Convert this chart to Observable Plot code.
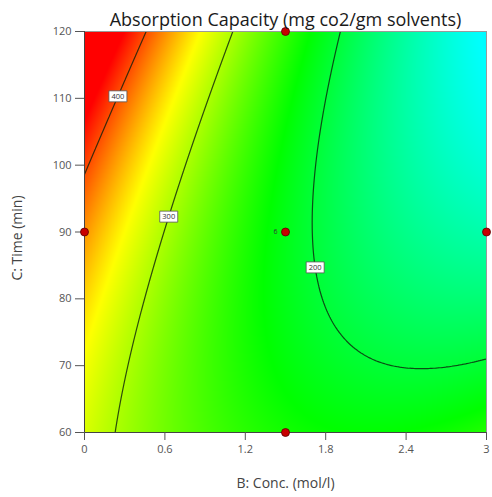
<!DOCTYPE html>
<html>
<head>
<meta charset="utf-8">
<script src="https://cdn.jsdelivr.net/npm/d3@7"></script>
<script src="https://cdn.jsdelivr.net/npm/@observablehq/plot@0.6"></script>
<style>
  html, body { margin: 0; padding: 0; background: #fff; }
</style>
</head>
<body>
<div id="chart"></div>
<script>
// Design points (B: concentration, C: time) and replicate counts
const designConc = [0, 3, 1.5, 1.5, 1.5];
const designTime = [90, 90, 120, 60, 90];
const designRuns = [1, 1, 1, 1, 6];

// Fitted quadratic model in coded units: b = (B - 1.5) / 1.5, c = (C - 90) / 30
const modelTerms = ["Intercept", "B", "C", "BC", "B²", "C²"];
const modelCoef = [214.3, -113.5, 7.4, -73.9, 46.7, 26.0];

// Contour levels and the time at which each level is labelled
const contourLevels = [200, 300, 400];
const contourLabelTime = [84.7, 92.3, 110.3];

// Colour ramp stops (response value -> colour)
const colorStops = [-5, 110, 225, 335, 428];
const colorRamp = ["#0000ff", "#00ffff", "#00ff00", "#ffff00", "#ff0000"];

// Axis ticks
const concTicks = [0, 0.6, 1.2, 1.8, 2.4, 3];
const timeTicks = [60, 70, 80, 90, 100, 110, 120];

const titleText = "Absorption Capacity (mg co2/gm solvents)";
const xLabel = "B: Conc. (mol/l)";
const yLabel = "C: Time (min)";

const coef = Object.fromEntries(modelTerms.map((t, i) => [t, modelCoef[i]]));
function response(B, C) {
  const b = (B - 1.5) / 1.5, c = (C - 90) / 30;
  return coef["Intercept"] + coef["B"] * b + coef["C"] * c + coef["BC"] * b * c
       + coef["B²"] * b * b + coef["C²"] * c * c;
}

// Concentration at which the response reaches a level for a fixed time (bisection)
function concAtLevel(level, C) {
  let lo = 0, hi = 3;
  const sLo = Math.sign(response(lo, C) - level);
  for (let i = 0; i < 60; i++) {
    const mid = (lo + hi) / 2;
    if (Math.sign(response(mid, C) - level) === sLo) lo = mid; else hi = mid;
  }
  return (lo + hi) / 2;
}

const design = designConc.map((B, i) => ({B, C: designTime[i], runs: designRuns[i]}));
const contourLabels = contourLevels.map((level, i) => ({
  level, C: contourLabelTime[i], B: concAtLevel(level, contourLabelTime[i])
}));

// Small boxed contour-label background
const labelBox = {draw(ctx) { ctx.rect(-9, -5.5, 18, 11); }};

const chart = Plot.plot({
  width: 492,
  height: 497,
  marginTop: 31,
  marginLeft: 84,
  marginRight: 6,
  marginBottom: 65,
  x: {domain: [0, 3]},
  y: {domain: [60, 120]},
  color: {type: "linear", domain: colorStops, range: colorRamp, interpolate: "rgb", clamp: true},
  style: {fontFamily: "'Open Sans', sans-serif", background: "#fff", overflow: "visible"},
  marks: [
    Plot.raster({x1: 0, x2: 3, y1: 60, y2: 120, fill: response, pixelSize: 1}),
    Plot.contour({
      x1: -0.3, x2: 3.3, y1: 55, y2: 125, value: response, thresholds: contourLevels,
      fill: "none", stroke: "#0d200d", strokeOpacity: 0.8, strokeWidth: 1.2, clip: "frame"
    }),
    Plot.frame({stroke: "#9a9a9a"}),
    Plot.ruleX([0], {stroke: "#444"}),
    Plot.ruleY([60], {stroke: "#444"}),
    Plot.axisX({ticks: concTicks, tickFormat: d => String(d), tickSize: 8, tickPadding: 5, fontSize: 11, color: "#555", label: null}),
    Plot.axisY({ticks: timeTicks, tickFormat: d => String(d), tickSize: 9, tickPadding: 4, fontSize: 11, color: "#555", label: null}),
    Plot.dot(contourLabels, {x: "B", y: "C", symbol: labelBox, r: 3, fill: "#fff", stroke: "#555", strokeWidth: 0.8}),
    Plot.text(contourLabels, {x: "B", y: "C", text: d => String(d.level), fontSize: 7.5, fill: "#333"}),
    Plot.dot(design, {x: "B", y: "C", r: 4, fill: "#c80000", stroke: "#5a0000", strokeWidth: 0.8}),
    Plot.text(design.filter(d => d.runs > 1), {x: "B", y: "C", text: d => String(d.runs), dx: -10, fontSize: 7, fill: "#333"}),
    Plot.text([titleText], {text: d => d, frameAnchor: "top", textAnchor: "middle", lineAnchor: "bottom", dy: -6, fontSize: 18, fill: "#1a1a1a"}),
    Plot.text([xLabel], {text: d => d, frameAnchor: "bottom", textAnchor: "middle", lineAnchor: "middle", dy: 51, fontSize: 14, fill: "#444"}),
    Plot.text([yLabel], {text: d => d, frameAnchor: "left", textAnchor: "middle", lineAnchor: "middle", rotate: -90, dx: -67, dy: 6, fontSize: 14, fill: "#444"})
  ]
});

document.getElementById("chart").appendChild(chart);
</script>
</body>
</html>
